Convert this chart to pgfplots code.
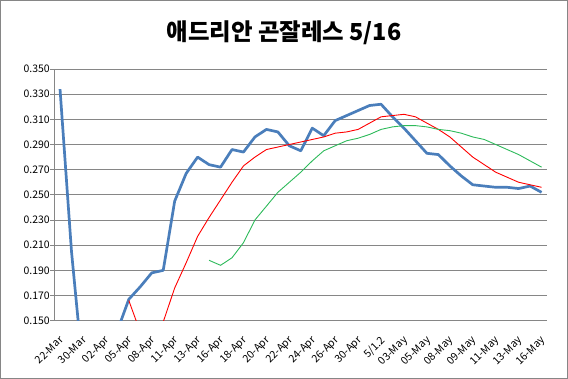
\documentclass[border=0pt]{standalone}
\usepackage{fontspec}
\setmainfont{Noto Sans CJK KR}
\usepackage{pgfplots}
\pgfplotsset{compat=1.18}
\definecolor{excelblue}{HTML}{4A7EBB}
\definecolor{excelgreen}{HTML}{2DBA5A}
\definecolor{gridgray}{HTML}{868686}
\begin{document}
\begin{tikzpicture}
\useasboundingbox (0,0) rectangle (568bp,379bp);
\draw[gridgray, line width=0.9bp] (0.5bp,0.5bp) rectangle (567.5bp,378.5bp);
\node[font=\fontsize{23.5}{27}\selectfont\bfseries] at (284bp,346bp) {애드리안 곤잘레스 5/16};
\begin{axis}[
  at={(54.3bp,58.3bp)}, anchor=south west,
  scale only axis, width=493bp, height=251.7bp,
  xmin=0.5, xmax=43.5, ymin=0.15, ymax=0.35,
  axis x line*=bottom, axis y line*=left,
  axis line style={gridgray, line width=0.9bp},
  tick align=outside,
  major tick length=4bp,
  tick style={gridgray, line width=0.9bp},
  ytick={0.15,0.17,...,0.351},
  ymajorgrids,
  grid style={gridgray, line width=0.9bp},
  yticklabel style={/pgf/number format/fixed, /pgf/number format/fixed zerofill, /pgf/number format/precision=3, font=\fontsize{10.5}{12}\selectfont, xshift=3bp},
  /pgf/number format/assume math mode=true,
  xtick={1,3,...,43},
  xticklabels={22-Mar,30-Mar,02-Apr,05-Apr,08-Apr,11-Apr,13-Apr,16-Apr,18-Apr,20-Apr,22-Apr,24-Apr,26-Apr,30-Apr,5/1.2,03-May,05-May,08-May,09-May,11-May,13-May,16-May},
  xtick style={draw=none},
  xticklabel style={font=\fontsize{10.6}{12}\selectfont, xshift=-1.5bp, yshift=-9bp, rotate=45, anchor=north east, inner sep=1bp},
  extra x ticks={0.5,1.5,...,43.6},
  extra x tick labels={},
  extra x tick style={tick style={draw=gridgray, line width=0.9bp}, major tick length=4bp},
]
\addplot[excelblue, line width=2.7bp, line join=round] coordinates {
(1,0.334)(2,0.205)(3,0.110)(4,0.120)(5,0.130)(6,0.142)(7,0.167)(8,0.177)(9,0.188)(10,0.190)
(11,0.245)(12,0.267)(13,0.280)(14,0.274)(15,0.272)(16,0.286)(17,0.284)(18,0.296)(19,0.302)(20,0.300)
(21,0.289)(22,0.285)(23,0.303)(24,0.297)(25,0.309)(26,0.313)(27,0.317)(28,0.321)(29,0.322)(30,0.312)
(31,0.303)(32,0.293)(33,0.283)(34,0.282)(35,0.273)(36,0.265)(37,0.258)(38,0.257)(39,0.256)(40,0.256)
(41,0.255)(42,0.257)(43,0.252)};
\addplot[red, line width=0.9bp] coordinates {
(7,0.166)(8,0.141)(9,0.135)(10,0.149)
(11,0.176)(12,0.196)(13,0.217)(14,0.232)(15,0.246)(16,0.260)(17,0.273)(18,0.280)(19,0.286)(20,0.288)
(21,0.290)(22,0.292)(23,0.294)(24,0.296)(25,0.299)(26,0.300)(27,0.302)(28,0.307)(29,0.312)(30,0.313)
(31,0.314)(32,0.312)(33,0.307)(34,0.302)(35,0.296)(36,0.288)(37,0.280)(38,0.274)(39,0.268)(40,0.264)
(41,0.260)(42,0.258)(43,0.256)};
\addplot[excelgreen, line width=0.9bp] coordinates {
(14,0.198)(15,0.194)(16,0.200)(17,0.212)(18,0.230)(19,0.241)(20,0.252)
(21,0.260)(22,0.268)(23,0.277)(24,0.285)(25,0.289)(26,0.293)(27,0.295)(28,0.298)(29,0.302)(30,0.304)
(31,0.305)(32,0.305)(33,0.304)(34,0.302)(35,0.301)(36,0.299)(37,0.296)(38,0.294)(39,0.290)(40,0.286)
(41,0.282)(42,0.277)(43,0.272)};
\end{axis}
\end{tikzpicture}
\end{document}
